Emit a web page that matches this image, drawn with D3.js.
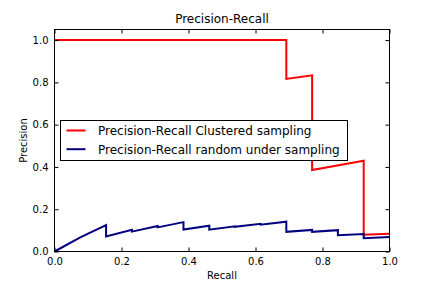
<!DOCTYPE html>
<html lang="en">
<head>
  <meta charset="UTF-8" />
  <title>Precision-Recall</title>
  <style>
    body { margin: 0; background: #fff; }
    svg text { font-family: "DejaVu Sans", sans-serif; fill: #000; }
    .clustered-line { fill: none; stroke: #ff0000; stroke-width: 2px; }
    .random-line { fill: none; stroke: #000080; stroke-width: 2px; }
  </style>
</head>
<body>
  <script src="https://cdn.jsdelivr.net/npm/d3@7"></script>
  <script>
    // data
    var clusteredRecall = [0, 0.692, 0.692, 0.769, 0.769, 0.923, 0.923, 1.0];
    var clusteredPrecision = [1.0, 1.0, 0.816, 0.833, 0.385, 0.429, 0.079, 0.084];

    var randomRecall = [0, 0.077, 0.154, 0.154, 0.231, 0.231, 0.308, 0.308, 0.385, 0.385,
      0.462, 0.462, 0.538, 0.538, 0.615, 0.615, 0.692, 0.692, 0.769, 0.769,
      0.846, 0.846, 0.923, 0.923, 1.0];
    var randomPrecision = [0, 0.067, 0.125, 0.071, 0.103, 0.094, 0.121, 0.114, 0.139, 0.104,
      0.122, 0.103, 0.119, 0.117, 0.131, 0.127, 0.141, 0.093, 0.102, 0.093,
      0.101, 0.077, 0.083, 0.063, 0.068];

    var xTicks = [0, 0.2, 0.4, 0.6, 0.8, 1.0];
    var yTicks = [0, 0.2, 0.4, 0.6, 0.8, 1.0];
    var seriesNames = ["Precision-Recall Clustered sampling", "Precision-Recall random under sampling"];
    var seriesColors = ["#ff0000", "#000080"];

    var w = 432;
    var h = 288;
    var margin = { top: 29.5, right: 42.5, bottom: 36.5, left: 54.5 };
    var iw = w - margin.left - margin.right;
    var ih = h - margin.top - margin.bottom;

    var svg = d3.select("body").append("svg")
      .attr("width", w)
      .attr("height", h);

    var xScale = d3.scaleLinear().domain([0, 1]).range([0, iw]);
    var yScale = d3.scaleLinear().domain([0, 1.05]).range([ih, 0]);

    var g = svg.append("g")
      .attr("transform", "translate(" + margin.left + "," + margin.top + ")");

    function pairs(xs, ys) {
      return xs.map(function(x, i) { return [x, ys[i]]; });
    }

    var line = d3.line()
      .x(function(d) { return xScale(d[0]); })
      .y(function(d) { return yScale(d[1]); });

    g.append("path")
      .datum(pairs(clusteredRecall, clusteredPrecision))
      .attr("class", "clustered-line")
      .attr("d", line);

    g.append("path")
      .datum(pairs(randomRecall, randomPrecision))
      .attr("class", "random-line")
      .attr("d", line);

    // axes: ticks pointing inward on all sides, like matplotlib classic
    var fmt = d3.format(".1f");
    var xAxis = d3.axisBottom(xScale).tickValues(xTicks).tickFormat(fmt).tickSizeInner(-4).tickSizeOuter(0).tickPadding(6);
    var xAxisTop = d3.axisTop(xScale).tickValues(xTicks).tickFormat("").tickSizeInner(-4).tickSizeOuter(0);
    var yAxis = d3.axisLeft(yScale).tickValues(yTicks).tickFormat(fmt).tickSizeInner(-4).tickSizeOuter(0).tickPadding(6);
    var yAxisRight = d3.axisRight(yScale).tickValues(yTicks).tickFormat("").tickSizeInner(-4).tickSizeOuter(0);

    [
      [xAxis, "translate(0," + ih + ")"],
      [xAxisTop, "translate(0,0)"],
      [yAxis, "translate(0,0)"],
      [yAxisRight, "translate(" + iw + ",0)"]
    ].forEach(function(a) {
      var ax = g.append("g").attr("transform", a[1]).call(a[0]);
      ax.select(".domain").remove();
      ax.selectAll("line").attr("stroke", "#000");
      ax.selectAll("text").style("font-size", "10px").style("font-family", "DejaVu Sans");
    });

    g.append("rect")
      .attr("width", iw)
      .attr("height", ih)
      .attr("fill", "none")
      .attr("stroke", "#000")
      .attr("stroke-width", 1);

    svg.append("text")
      .attr("x", margin.left + iw / 2)
      .attr("y", 23)
      .attr("text-anchor", "middle")
      .style("font-size", "12px")
      .text("Precision-Recall");

    svg.append("text")
      .attr("x", margin.left + iw / 2)
      .attr("y", 279)
      .attr("text-anchor", "middle")
      .style("font-size", "10px")
      .text("Recall");

    svg.append("text")
      .attr("transform", "translate(27," + (margin.top + ih / 2) + ") rotate(-90)")
      .attr("text-anchor", "middle")
      .style("font-size", "10px")
      .text("Precision");

    // legend
    var legend = svg.append("g").attr("transform", "translate(60.5,120.5)");
    legend.append("rect")
      .attr("width", 287)
      .attr("height", 40)
      .attr("fill", "#fff")
      .attr("stroke", "#000");

    seriesNames.forEach(function(name, i) {
      var yy = 10 + i * 18.7;
      legend.append("line")
        .attr("x1", 6).attr("x2", 25)
        .attr("y1", yy).attr("y2", yy)
        .attr("stroke", seriesColors[i])
        .attr("stroke-width", 2);
      legend.append("text")
        .attr("x", 37.5)
        .attr("y", yy + 4.5)
        .style("font-size", "12px")
        .text(name);
    });
  </script>
</body>
</html>
